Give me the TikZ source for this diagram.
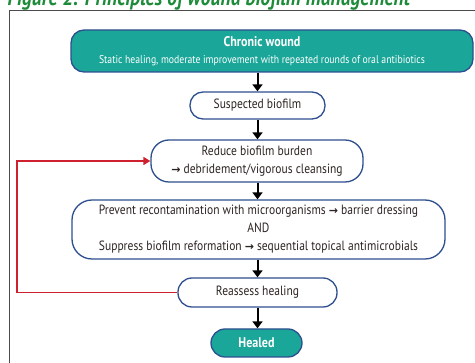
\documentclass[tikz,border=0pt]{standalone}
\usepackage{fontspec}
\setmainfont{PT Sans}[FakeStretch=0.86]
\newfontfamily\arrowfont{DejaVu Sans}
\newcommand\thenarrow{{\arrowfont\fontsize{11}{11}\selectfont\bfseries →}}
\usetikzlibrary{positioning, arrows.meta}
\definecolor{woundteal}{RGB}{26,166,152}
\definecolor{woundblue}{RGB}{46,79,143}
\definecolor{wounddark}{RGB}{45,36,34}
\definecolor{woundred}{RGB}{206,32,46}
\definecolor{woundgreen}{RGB}{30,139,58}
\begin{document}
\begin{tikzpicture}[x=1pt, y=-1pt,
    pill/.style={rectangle, rounded corners=13pt, draw=woundblue, line width=1.3pt, fill=white, text=wounddark, align=center, inner sep=0pt, font=\fontsize{13.4}{18}\selectfont},
    tealpill/.style={pill, fill=woundteal, text=white},
    flow/.style={-{Triangle[length=7pt, width=10pt]}, line width=2pt, black},
    loopback/.style={-{Triangle[length=7pt, width=8pt]}, line width=1.6pt, woundred}]
  \useasboundingbox (0,0) rectangle (475,363);
  \clip (0,0) rectangle (475,363);
  \node (title) [anchor=base west, text=woundgreen, font=\fontsize{22.7}{24}\selectfont\bfseries\itshape] at (4,6) {Figure 2. Principles of wound biofilm management};
  \draw [line width=1pt, black!70] (9,370) -- (9,11) -- (480,11);
  % flow boxes
  \node (chronic) [tealpill, minimum width=402pt, minimum height=42pt,
    label={[xshift=-10pt, text=white, align=center, font=\fontsize{11.3}{17}\selectfont]center:{{\fontsize{14}{17}\selectfont\bfseries Chronic wound}\\Static healing, moderate improvement with repeated rounds of oral antibiotics}}] at (272,51) {};
  \node (suspect) [pill, minimum width=135pt, minimum height=27pt] at (257.5,105.5) {Suspected biofilm};
  \node (reduce) [pill, minimum width=212pt, minimum height=42pt, rounded corners=18pt] at (257,161) {Reduce biofilm burden\\\thenarrow\ debridement/vigorous cleansing};
  \node (prevent) [pill, minimum width=373pt, minimum height=59pt, rounded corners=20pt] at (258.5,229.5) {Prevent recontamination with microorganisms \thenarrow\ barrier dressing\\AND\\Suppress biofilm reformation \thenarrow\ sequential topical antimicrobials};
  \node (reassess) [pill, minimum width=159pt, minimum height=29pt, rounded corners=14pt] at (257.5,292.5) {Reassess healing};
  \node (healed) [tealpill, minimum width=91pt, minimum height=28pt, rounded corners=14pt, font=\fontsize{14}{14}\selectfont\bfseries] at (256.5,343) {Healed};
  \coordinate (loop) at (17,161);
  % connectors
  \draw [flow] (suspect.north |- chronic.south) -- (suspect.north);
  \draw [flow] (suspect.south) -- (reduce.north -| suspect.south);
  \draw [flow] (reduce.south -| suspect.south) -- (prevent.north -| suspect.south);
  \draw [flow] (prevent.south -| suspect.south) -- (reassess.north -| suspect.south);
  \draw [flow] (reassess.south -| suspect.south) -- (healed.north -| suspect.south);
  \draw [loopback] (reassess.west) -| (loop) -- (reduce.west);
\end{tikzpicture}
\end{document}
